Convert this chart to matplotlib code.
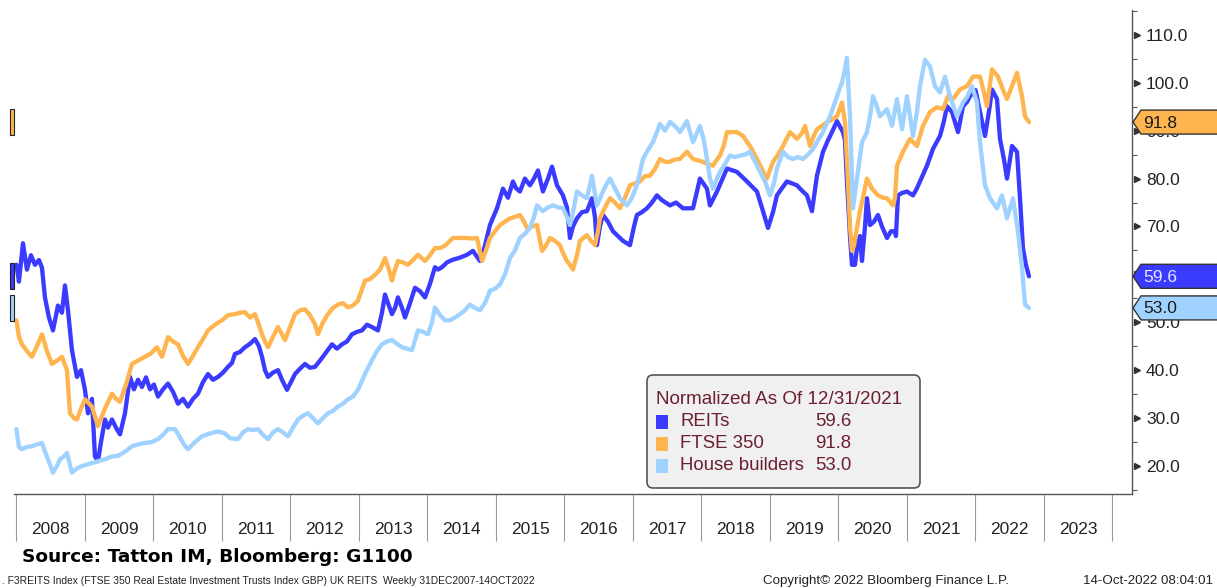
import matplotlib
matplotlib.use("Agg")
import matplotlib.pyplot as plt
import matplotlib.transforms as mtransforms
from matplotlib.patches import Polygon, Rectangle, FancyBboxPatch

plt.rcParams["font.family"] = ["Liberation Sans", "DejaVu Sans"]

# ---- data (decimal year, index value; normalized 31 Dec 2021 = 100) ----
reits = [
    (2008.000, 62.0), (2008.036, 58.5), (2008.095, 66.5), (2008.153, 61.0), (2008.212, 64.0),
    (2008.270, 62.0), (2008.328, 63.0), (2008.372, 61.4), (2008.416, 55.2), (2008.474, 51.0),
    (2008.533, 48.3), (2008.606, 53.5), (2008.664, 52.0), (2008.708, 57.7), (2008.752, 52.5),
    (2008.810, 44.2), (2008.883, 38.6), (2008.942, 40.0), (2009.000, 35.9), (2009.044, 31.0),
    (2009.102, 34.0), (2009.146, 22.0), (2009.190, 21.0), (2009.234, 25.0), (2009.292, 29.7),
    (2009.336, 28.0), (2009.394, 29.7), (2009.453, 28.0), (2009.511, 26.6), (2009.584, 31.0),
    (2009.657, 38.6), (2009.715, 36.0), (2009.774, 38.0), (2009.832, 36.5), (2009.891, 38.5),
    (2009.949, 36.0), (2010.007, 37.0), (2010.066, 34.5), (2010.139, 36.0), (2010.212, 37.2),
    (2010.285, 35.5), (2010.358, 33.0), (2010.431, 34.0), (2010.504, 32.4), (2010.577, 34.0),
    (2010.650, 35.1), (2010.723, 37.5), (2010.796, 39.2), (2010.869, 38.0), (2010.942, 38.6),
    (2011.015, 39.5), (2011.088, 40.7), (2011.146, 41.5), (2011.190, 43.4), (2011.263, 43.8),
    (2011.336, 44.8), (2011.409, 45.5), (2011.482, 46.5), (2011.540, 45.0), (2011.584, 42.8),
    (2011.628, 40.0), (2011.672, 38.6), (2011.745, 39.5), (2011.818, 40.0), (2011.876, 38.0),
    (2011.949, 35.9), (2012.007, 37.5), (2012.066, 39.2), (2012.139, 40.3), (2012.212, 41.3),
    (2012.285, 40.5), (2012.358, 40.7), (2012.431, 42.0), (2012.504, 43.4), (2012.606, 45.4),
    (2012.679, 44.5), (2012.752, 45.4), (2012.825, 46.0), (2012.898, 47.5), (2012.971, 48.0),
    (2013.044, 48.3), (2013.117, 49.5), (2013.190, 49.0), (2013.277, 48.3), (2013.336, 52.0),
    (2013.380, 55.8), (2013.423, 54.0), (2013.482, 51.7), (2013.526, 53.0), (2013.569, 55.2),
    (2013.628, 53.0), (2013.672, 51.0), (2013.745, 54.0), (2013.818, 57.2), (2013.891, 56.5),
    (2013.964, 55.2), (2014.036, 58.0), (2014.109, 61.5), (2014.153, 61.0), (2014.212, 61.5),
    (2014.285, 62.5), (2014.358, 63.0), (2014.474, 63.5), (2014.577, 64.1), (2014.664, 64.9),
    (2014.766, 62.8), (2014.839, 66.0), (2014.912, 70.3), (2015.015, 73.8), (2015.102, 77.9),
    (2015.175, 76.0), (2015.248, 79.4), (2015.292, 78.0), (2015.350, 77.3), (2015.423, 80.0),
    (2015.496, 78.6), (2015.555, 80.0), (2015.613, 81.7), (2015.686, 77.3), (2015.759, 80.0),
    (2015.818, 82.5), (2015.891, 78.6), (2015.978, 76.5), (2016.036, 74.0), (2016.080, 67.6),
    (2016.124, 70.0), (2016.182, 71.7), (2016.255, 73.0), (2016.328, 73.2), (2016.401, 75.9),
    (2016.445, 72.0), (2016.474, 66.1), (2016.518, 70.0), (2016.562, 72.4), (2016.635, 71.0),
    (2016.708, 69.0), (2016.781, 68.0), (2016.854, 67.0), (2016.912, 66.5), (2016.956, 66.1),
    (2017.015, 70.0), (2017.058, 72.4), (2017.131, 73.0), (2017.204, 73.8), (2017.277, 75.0),
    (2017.350, 76.5), (2017.423, 75.5), (2017.540, 74.4), (2017.628, 75.0), (2017.730, 73.8),
    (2017.876, 73.8), (2017.978, 80.0), (2018.080, 77.9), (2018.124, 74.4), (2018.226, 77.3),
    (2018.372, 82.1), (2018.518, 81.4), (2018.664, 79.4), (2018.810, 77.3), (2018.898, 73.2),
    (2018.971, 69.7), (2019.044, 73.0), (2019.102, 76.5), (2019.175, 78.0), (2019.248, 79.4),
    (2019.321, 79.0), (2019.394, 78.6), (2019.467, 77.5), (2019.540, 76.5), (2019.613, 73.2),
    (2019.686, 80.6), (2019.774, 85.6), (2019.847, 88.0), (2019.905, 89.7), (2019.978, 92.0),
    (2020.066, 89.7), (2020.095, 88.0), (2020.124, 79.4), (2020.168, 68.0), (2020.197, 62.0),
    (2020.241, 62.0), (2020.270, 65.5), (2020.314, 68.0), (2020.343, 62.8), (2020.387, 70.0),
    (2020.416, 75.9), (2020.460, 70.3), (2020.518, 71.0), (2020.577, 72.4), (2020.635, 70.0),
    (2020.708, 67.6), (2020.766, 69.0), (2020.825, 69.0), (2020.839, 68.0), (2020.869, 76.5),
    (2020.927, 77.0), (2021.000, 77.3), (2021.088, 76.5), (2021.146, 78.0), (2021.190, 79.4),
    (2021.292, 82.7), (2021.380, 86.2), (2021.482, 88.9), (2021.540, 92.0), (2021.584, 95.1),
    (2021.657, 93.9), (2021.745, 89.7), (2021.818, 95.1), (2021.876, 96.0), (2021.920, 97.2),
    (2022.000, 98.5), (2022.080, 93.0), (2022.139, 88.9), (2022.197, 94.0), (2022.241, 98.6),
    (2022.314, 96.6), (2022.358, 88.3), (2022.416, 84.0), (2022.460, 80.0), (2022.504, 84.0),
    (2022.533, 86.8), (2022.606, 85.6), (2022.650, 75.9), (2022.693, 65.5), (2022.737, 62.0),
    (2022.781, 59.6),
]

ftse350 = [
    (2008.000, 50.4), (2008.036, 47.0), (2008.080, 45.4), (2008.153, 44.0), (2008.226, 42.8),
    (2008.299, 45.0), (2008.372, 47.5), (2008.445, 44.0), (2008.518, 41.3), (2008.591, 42.0),
    (2008.664, 42.8), (2008.737, 40.0), (2008.781, 31.0), (2008.839, 30.0), (2008.883, 29.7),
    (2008.942, 32.0), (2009.000, 33.9), (2009.102, 32.4), (2009.190, 28.3), (2009.292, 32.0),
    (2009.394, 35.1), (2009.453, 34.0), (2009.511, 33.4), (2009.599, 37.0), (2009.686, 41.3),
    (2009.774, 42.0), (2009.876, 42.8), (2009.964, 43.5), (2010.051, 44.8), (2010.124, 42.8),
    (2010.212, 46.9), (2010.285, 46.0), (2010.358, 45.4), (2010.431, 43.0), (2010.504, 41.3),
    (2010.577, 43.0), (2010.650, 44.8), (2010.723, 46.5), (2010.796, 48.3), (2010.898, 49.5),
    (2011.000, 50.4), (2011.088, 51.5), (2011.190, 51.7), (2011.263, 52.0), (2011.336, 52.1),
    (2011.409, 51.0), (2011.482, 51.7), (2011.526, 50.0), (2011.584, 47.5), (2011.628, 46.0),
    (2011.672, 44.8), (2011.745, 47.0), (2011.818, 49.0), (2011.876, 47.5), (2011.920, 46.3),
    (2011.993, 49.0), (2012.066, 51.7), (2012.139, 52.5), (2012.212, 52.7), (2012.285, 51.5),
    (2012.358, 49.6), (2012.401, 47.5), (2012.474, 50.0), (2012.547, 51.7), (2012.620, 53.0),
    (2012.693, 53.7), (2012.766, 54.0), (2012.839, 53.1), (2012.912, 53.5), (2012.985, 54.5),
    (2013.088, 58.7), (2013.161, 59.0), (2013.234, 59.9), (2013.307, 61.0), (2013.380, 63.4),
    (2013.438, 61.0), (2013.482, 58.7), (2013.526, 61.0), (2013.569, 62.8), (2013.642, 62.5),
    (2013.715, 62.0), (2013.788, 63.0), (2013.861, 64.1), (2013.964, 62.8), (2014.036, 64.0),
    (2014.109, 65.5), (2014.182, 65.5), (2014.255, 66.0), (2014.372, 67.6), (2014.474, 67.6),
    (2014.577, 67.6), (2014.650, 67.5), (2014.723, 67.6), (2014.796, 62.8), (2014.854, 65.0),
    (2014.912, 67.6), (2014.985, 69.0), (2015.058, 70.3), (2015.131, 71.0), (2015.204, 71.7),
    (2015.277, 72.0), (2015.350, 72.4), (2015.409, 71.0), (2015.453, 69.7), (2015.526, 70.0),
    (2015.599, 70.3), (2015.672, 64.9), (2015.730, 66.0), (2015.788, 67.6), (2015.861, 67.0),
    (2015.934, 66.1), (2015.993, 64.0), (2016.036, 62.8), (2016.080, 62.0), (2016.124, 61.0),
    (2016.182, 64.0), (2016.226, 67.0), (2016.328, 68.2), (2016.387, 67.0), (2016.445, 66.1),
    (2016.489, 69.0), (2016.518, 71.7), (2016.591, 74.0), (2016.664, 75.9), (2016.737, 75.0),
    (2016.810, 73.8), (2016.883, 76.0), (2016.956, 78.6), (2017.029, 79.0), (2017.102, 79.4),
    (2017.175, 80.5), (2017.248, 80.6), (2017.321, 82.0), (2017.394, 84.1), (2017.467, 83.5),
    (2017.540, 83.5), (2017.613, 84.0), (2017.686, 84.1), (2017.788, 85.6), (2017.876, 84.1),
    (2017.949, 83.8), (2018.022, 83.5), (2018.095, 83.0), (2018.168, 82.7), (2018.226, 84.0),
    (2018.270, 84.8), (2018.328, 87.0), (2018.372, 89.7), (2018.445, 89.7), (2018.518, 89.7),
    (2018.606, 88.9), (2018.708, 86.8), (2018.810, 84.1), (2018.883, 82.0), (2018.956, 80.0),
    (2019.044, 83.5), (2019.117, 85.0), (2019.190, 86.8), (2019.292, 89.7), (2019.394, 88.3),
    (2019.467, 89.5), (2019.511, 91.0), (2019.584, 86.8), (2019.642, 89.0), (2019.686, 90.3),
    (2019.759, 91.0), (2019.832, 91.8), (2019.905, 92.3), (2019.978, 93.0), (2020.051, 95.9),
    (2020.095, 91.8), (2020.139, 79.4), (2020.168, 70.0), (2020.197, 64.9), (2020.226, 66.0),
    (2020.270, 69.7), (2020.314, 73.2), (2020.372, 77.0), (2020.416, 80.0), (2020.489, 77.9),
    (2020.577, 76.5), (2020.650, 76.0), (2020.708, 75.9), (2020.796, 74.4), (2020.825, 76.0),
    (2020.854, 82.7), (2020.942, 85.6), (2021.044, 88.3), (2021.146, 86.8), (2021.234, 91.0),
    (2021.336, 93.9), (2021.438, 94.9), (2021.526, 94.5), (2021.599, 97.2), (2021.672, 96.6),
    (2021.774, 98.6), (2021.876, 99.3), (2021.964, 101.3), (2022.066, 101.3), (2022.124, 98.0),
    (2022.168, 95.1), (2022.241, 102.8), (2022.328, 101.3), (2022.401, 98.6), (2022.460, 96.6),
    (2022.533, 99.3), (2022.606, 102.1), (2022.679, 97.2), (2022.723, 93.0), (2022.781, 91.8),
]

house_builders = [
    (2008.000, 27.7), (2008.036, 24.0), (2008.080, 23.5), (2008.153, 24.0), (2008.226, 24.1),
    (2008.299, 24.5), (2008.372, 24.8), (2008.416, 23.0), (2008.460, 21.4), (2008.533, 18.6),
    (2008.591, 20.0), (2008.635, 21.4), (2008.693, 22.0), (2008.737, 22.7), (2008.810, 18.6),
    (2008.883, 19.5), (2008.956, 20.0), (2009.029, 20.3), (2009.102, 20.6), (2009.190, 21.0),
    (2009.292, 21.4), (2009.394, 22.0), (2009.482, 22.1), (2009.584, 23.0), (2009.686, 24.1),
    (2009.774, 24.5), (2009.876, 24.8), (2009.978, 25.0), (2010.066, 25.6), (2010.139, 26.5),
    (2010.212, 27.7), (2010.314, 27.7), (2010.387, 26.0), (2010.445, 24.5), (2010.504, 23.5),
    (2010.606, 25.0), (2010.708, 26.2), (2010.825, 26.8), (2010.942, 27.2), (2011.044, 26.8),
    (2011.117, 25.8), (2011.234, 25.6), (2011.307, 27.0), (2011.380, 27.7), (2011.453, 27.5),
    (2011.526, 27.7), (2011.599, 26.5), (2011.672, 25.6), (2011.745, 27.0), (2011.818, 27.7),
    (2011.891, 27.0), (2011.964, 26.2), (2012.036, 28.0), (2012.109, 29.7), (2012.182, 30.5),
    (2012.255, 31.0), (2012.328, 30.0), (2012.401, 28.9), (2012.474, 30.0), (2012.547, 31.0),
    (2012.620, 31.5), (2012.693, 32.4), (2012.766, 33.0), (2012.839, 33.9), (2012.912, 34.5),
    (2012.985, 35.9), (2013.088, 39.2), (2013.190, 42.1), (2013.263, 44.0), (2013.336, 45.4),
    (2013.409, 46.0), (2013.482, 46.3), (2013.555, 45.5), (2013.628, 44.8), (2013.701, 44.5),
    (2013.774, 44.2), (2013.861, 48.3), (2013.934, 48.0), (2014.007, 47.5), (2014.066, 50.0),
    (2014.109, 53.1), (2014.182, 51.5), (2014.255, 50.4), (2014.328, 50.4), (2014.401, 51.0),
    (2014.474, 51.7), (2014.547, 52.5), (2014.620, 53.7), (2014.693, 53.0), (2014.766, 52.5),
    (2014.839, 54.0), (2014.912, 56.6), (2014.985, 57.0), (2015.058, 57.9), (2015.131, 60.0),
    (2015.204, 63.4), (2015.277, 65.0), (2015.350, 67.6), (2015.423, 68.5), (2015.496, 69.7),
    (2015.555, 72.0), (2015.599, 74.4), (2015.686, 73.2), (2015.759, 74.0), (2015.832, 74.4),
    (2015.905, 74.0), (2015.978, 73.8), (2016.036, 72.0), (2016.080, 70.3), (2016.139, 74.0),
    (2016.182, 77.3), (2016.255, 76.5), (2016.328, 75.9), (2016.401, 80.6), (2016.474, 74.4),
    (2016.562, 77.3), (2016.620, 79.0), (2016.664, 80.0), (2016.737, 78.0), (2016.810, 75.9),
    (2016.912, 74.4), (2016.985, 76.0), (2017.058, 78.6), (2017.146, 84.1), (2017.219, 86.0),
    (2017.292, 87.6), (2017.394, 91.4), (2017.467, 90.0), (2017.540, 91.8), (2017.613, 91.0),
    (2017.686, 89.7), (2017.788, 92.0), (2017.876, 87.6), (2017.978, 91.0), (2018.036, 88.0),
    (2018.080, 84.1), (2018.124, 80.0), (2018.168, 77.9), (2018.226, 80.0), (2018.270, 81.4),
    (2018.343, 83.0), (2018.416, 84.8), (2018.489, 84.5), (2018.562, 84.8), (2018.635, 85.0),
    (2018.708, 85.6), (2018.810, 82.7), (2018.869, 81.0), (2018.927, 79.4), (2019.000, 76.5),
    (2019.058, 79.0), (2019.102, 82.1), (2019.190, 85.6), (2019.263, 84.5), (2019.336, 84.1),
    (2019.409, 84.5), (2019.482, 84.1), (2019.555, 85.0), (2019.628, 86.2), (2019.701, 88.0),
    (2019.774, 89.7), (2019.876, 93.0), (2019.949, 95.9), (2020.022, 99.0), (2020.051, 100.0),
    (2020.095, 103.0), (2020.124, 105.2), (2020.168, 93.0), (2020.212, 73.8), (2020.270, 80.0),
    (2020.343, 87.6), (2020.416, 89.7), (2020.460, 93.0), (2020.504, 97.2), (2020.562, 95.0),
    (2020.606, 93.0), (2020.708, 94.5), (2020.781, 91.0), (2020.854, 96.6), (2020.927, 90.3),
    (2021.000, 97.2), (2021.088, 88.9), (2021.146, 94.0), (2021.190, 99.3), (2021.263, 104.8),
    (2021.336, 103.4), (2021.409, 99.3), (2021.482, 98.0), (2021.555, 101.3), (2021.628, 97.2),
    (2021.730, 93.0), (2021.818, 95.9), (2021.876, 97.0), (2021.949, 99.3), (2022.022, 95.9),
    (2022.066, 87.6), (2022.139, 78.6), (2022.212, 75.9), (2022.314, 73.8), (2022.387, 76.5),
    (2022.460, 71.7), (2022.547, 75.9), (2022.620, 69.0), (2022.679, 61.4), (2022.723, 53.7),
    (2022.781, 53.0),
]

series_names = ["REITs", "FTSE 350", "House builders"]
series_data = [reits, ftse350, house_builders]
series_colors = ["#3b3bff", "#ffb54f", "#a0d2ff"]
last_values = [59.6, 91.8, 53.0]
tag_text_colors = ["#e8e8ff", "#1a1a1a", "#1a1a1a"]

years = list(range(2008, 2024))
y_ticks = [20, 30, 40, 50, 60, 70, 80, 90, 100, 110]

W, H = 1217, 588
fig = plt.figure(figsize=(W / 100, H / 100), dpi=100)
# pixel coordinates with origin at the top-left of the picture
pix = mtransforms.Affine2D().scale(1 / W, -1 / H).translate(0, 1) + fig.transFigure

ax = fig.add_axes([14 / W, 1 - 494 / H, (1132 - 14) / W, (494 - 10) / H])

for pts, color in zip(series_data, series_colors):
    t, v = zip(*pts)
    ax.plot(t, v, color=color, lw=3.1, solid_joinstyle="round", solid_capstyle="round")

ax.set_xlim(2007.964, 2024.285)
ax.set_ylim(14.15, 115.2)

for side in ["left", "top"]:
    ax.spines[side].set_visible(False)
for side in ["right", "bottom"]:
    ax.spines[side].set_color("#555555")
    ax.spines[side].set_linewidth(1.0)

# x axis: separators at year boundaries, labels centred in each year
ax.set_xticks(years + [2024])
ax.set_xticklabels([])
ax.set_xticks([y + 0.5 for y in years], minor=True)
ax.set_xticklabels([str(y) for y in years], minor=True)
ax.tick_params(axis="x", which="major", length=34, width=0.8, color="#999999", direction="out")
ax.tick_params(axis="x", which="minor", length=0, pad=20, labelsize=12.5, labelcolor="#222222")

# y axis on the right
ax.yaxis.tick_right()
ax.set_yticks(y_ticks)
ax.set_yticklabels([f"{v:.1f}" for v in y_ticks])
ax.set_yticks([v + 5 for v in [10] + y_ticks], minor=True)
ax.tick_params(axis="y", which="major", length=0, pad=10, labelsize=12.5, labelcolor="#222222")
ax.tick_params(axis="y", which="minor", length=3.5, width=0.8, color="#555555")
tri = mtransforms.blended_transform_factory(ax.transAxes, ax.transData)
ax.plot([1.0045] * len(y_ticks), y_ticks, transform=tri, ls="none", marker=">", ms=5,
        color="#333333", clip_on=False)

fig.canvas.draw()
x_axis_right = 1132

# value tags on the right axis and the clipped ones on the left edge
for val, color, tcol in zip(last_values, series_colors, tag_text_colors):
    yd = ax.transData.transform((2020, val))[1]
    yc = H - yd
    poly = Polygon([(x_axis_right + 1, yc), (x_axis_right + 9, yc - 12), (W + 2, yc - 12),
                    (W + 2, yc + 12), (x_axis_right + 9, yc + 12)],
                   closed=True, facecolor=color, edgecolor="#333333", lw=1.0,
                   transform=pix, zorder=5)
    fig.add_artist(poly)
    fig.text(x_axis_right + 11, yc + 1, f"{val:.1f}", transform=pix, fontsize=12.5,
             color=tcol, ha="left", va="center", zorder=6)
    rect = Rectangle((10, yc - 13), 4, 26, facecolor=color, edgecolor="#222222", lw=0.8,
                     transform=pix, zorder=5)
    fig.add_artist(rect)

# legend box
legend_color = "#6b1f30"
box = FancyBboxPatch((647, 375), 273, 113, boxstyle="round,pad=0,rounding_size=6",
                     facecolor="#f0f0f0", edgecolor="#555555", lw=1.2, transform=pix, zorder=5)
fig.add_artist(box)
fig.text(656, 400, "Normalized As Of 12/31/2021", transform=pix, fontsize=13.6,
         color=legend_color, ha="left", va="center", zorder=6)
for i, (name, color, val) in enumerate(zip(series_names, series_colors, last_values)):
    yc = 422 + 22 * i
    fig.add_artist(Rectangle((656, yc - 7), 12, 14, facecolor=color, edgecolor="none",
                             transform=pix, zorder=6))
    fig.text(680, yc, name, transform=pix, fontsize=13.4, color=legend_color,
             ha="left", va="center", zorder=6)
    fig.text(815, yc, f"{val:.1f}", transform=pix, fontsize=13.4, color=legend_color,
             ha="left", va="center", zorder=6)

# source and footer
fig.text(22, 557, "Source: Tatton IM, Bloomberg: G1100", transform=pix, fontsize=13.3,
         fontweight="bold", family="DejaVu Sans", ha="left", va="center")
fig.text(2, 581, ". F3REITS Index (FTSE 350 Real Estate Investment Trusts Index GBP) UK REITS  Weekly 31DEC2007-14OCT2022",
         transform=pix, fontsize=7.4, ha="left", va="center", color="#222222")
fig.text(763, 581, "Copyright\u00a9 2022 Bloomberg Finance L.P.", transform=pix, fontsize=9.6,
         ha="left", va="center", color="#222222")
fig.text(1083, 581, "14-Oct-2022 08:04:01", transform=pix, fontsize=9.6, ha="left",
         va="center", color="#222222")

fig.savefig("out.png", dpi=100)
